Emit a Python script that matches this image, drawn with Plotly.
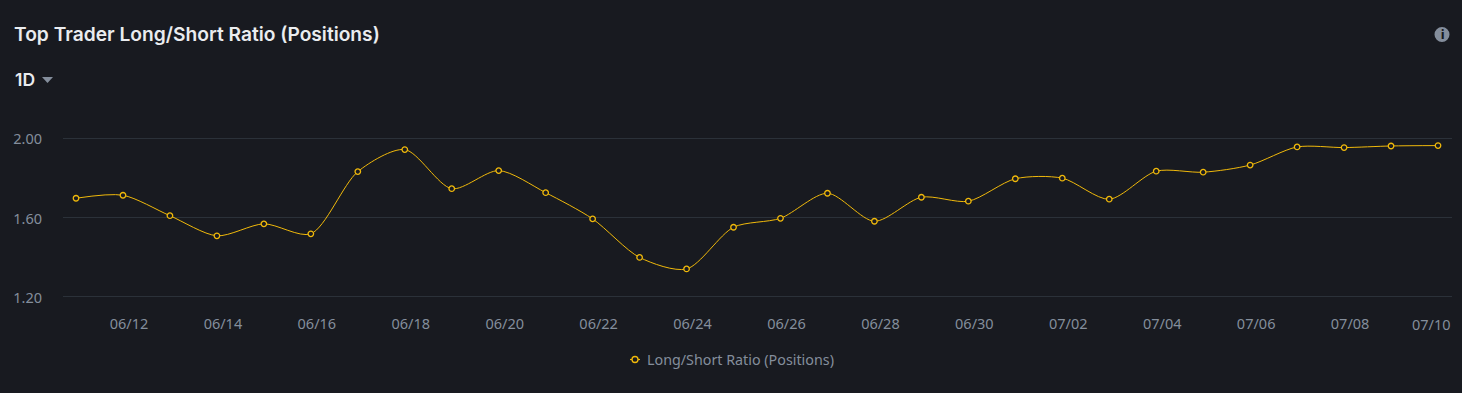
import plotly.graph_objects as go

W, H = 1462, 393
L, R, T, B = 63, 1452, 128, 307

dates = ["2023-06-11","2023-06-12","2023-06-13","2023-06-14","2023-06-15","2023-06-16","2023-06-17","2023-06-18","2023-06-19","2023-06-20",
         "2023-06-21","2023-06-22","2023-06-23","2023-06-24","2023-06-25","2023-06-26","2023-06-27","2023-06-28","2023-06-29","2023-06-30",
         "2023-07-01","2023-07-02","2023-07-03","2023-07-04","2023-07-05","2023-07-06","2023-07-07","2023-07-08","2023-07-09","2023-07-10"]
ratio = [1.697,1.712,1.609,1.508,1.568,1.518,1.831,1.942,1.745,1.836,
         1.725,1.593,1.399,1.341,1.551,1.596,1.722,1.581,1.702,1.682,
         1.795,1.798,1.692,1.833,1.828,1.864,1.955,1.952,1.960,1.962]
tick_dates = dates[1:29:2]
tick_labels = [d[5:7] + "/" + d[8:] for d in tick_dates]
last_date = dates[-1]
last_label = last_date[5:7] + "/" + last_date[8:]
y_ticks = [1.2, 1.6, 2.0]
y_labels = ["1.20", "1.60", "2.00"]
series_name = "Long/Short Ratio (Positions)"
title = "Top Trader Long/Short Ratio (Positions)"
interval = "1D"

BG = "#181A20"; GRID = "#2B3139"; MUTED = "#848E9C"; WHITE = "#EAECEF"; YEL = "#F0B90B"
FONT = "Noto Sans"; HEAD = "Inter"

def px(x): return (x - L) / (R - L)
def py(y): return (B - y) / (B - T)

fig = go.Figure()
fig.add_trace(go.Scatter(
    x=dates, y=ratio, mode="lines+markers", showlegend=False, cliponaxis=False,
    line=dict(color=YEL, width=1, shape="spline", smoothing=0.8),
    marker=dict(symbol="circle", size=5.5, color=BG, line=dict(color=YEL, width=1.3)),
))
fig.add_trace(go.Scatter(
    x=[None], y=[None], name=series_name, mode="markers",
    marker=dict(symbol="circle", size=6, color="rgba(0,0,0,0)", line=dict(color="rgba(0,0,0,0)", width=0)),
))

fig.update_layout(
    width=W, height=H, autosize=False,
    margin=dict(l=L, r=W - R, t=T, b=H - B, pad=0),
    paper_bgcolor=BG, plot_bgcolor=BG,
    font=dict(family=FONT, size=14.5, color=MUTED),
    hovermode=False,
    xaxis=dict(
        type="date", range=["2023-06-10 17:21", "2023-07-10 07:09"],
        tickmode="array", tickvals=tick_dates, ticktext=tick_labels,
        ticks="", showgrid=False, zeroline=False, showline=False,
        ticklabelstandoff=6, ticklabelshift=6,
    ),
    yaxis=dict(
        range=[1.1495, 2.0505], tickmode="array", tickvals=y_ticks, ticktext=y_labels,
        showgrid=True, gridcolor=GRID, gridwidth=1, zeroline=False, showline=False,
        ticks="", ticklabelstandoff=20, ticklabelshift=1,
    ),
    legend=dict(orientation="h", x=px(637 - 30), xref="paper", y=py(360), yanchor="middle", xanchor="left",
                font=dict(size=14.3, color=MUTED), bgcolor="rgba(0,0,0,0)"),
    annotations=[
        dict(text=title, xref="paper", yref="paper", x=px(12), y=py(34), xanchor="left", yanchor="middle",
             showarrow=False, font=dict(size=19.2, color=WHITE, weight=600, family=HEAD)),
        dict(text=interval, xref="paper", yref="paper", x=px(13), y=py(79), xanchor="left", yanchor="middle",
             showarrow=False, font=dict(size=17.5, color=WHITE, weight=600, family=HEAD)),
        dict(text=last_label, xref="x", yref="paper", x=last_date, y=py(324), xshift=-7, xanchor="center",
             yanchor="middle", showarrow=False, font=dict(size=14.5, color=MUTED, family=FONT)),
        dict(text="i", xref="paper", yref="paper", x=px(1442), y=py(34.5), xanchor="center", yanchor="middle",
             showarrow=False, font=dict(size=12, color=BG, weight=800, family=HEAD)),
    ],
    shapes=[
        dict(type="circle", xref="paper", yref="paper", x0=px(1434.5), x1=px(1449.5), y0=py(42), y1=py(27),
             fillcolor=MUTED, line=dict(width=0), layer="below"),
        dict(type="path", xref="paper", yref="paper",
             path=f"M {px(42)} {py(77)} L {px(53)} {py(77)} L {px(47.5)} {py(83)} Z",
             fillcolor=MUTED, line=dict(width=0)),
        dict(type="line", xref="paper", yref="paper", x0=px(630), x1=px(640), y0=py(359.5), y1=py(359.5),
             line=dict(color=YEL, width=1.2)),
        dict(type="circle", xref="paper", yref="paper", x0=px(632), x1=px(638), y0=py(362.5), y1=py(356.5),
             fillcolor=BG, line=dict(color=YEL, width=1.3)),
    ],
)

fig.write_html("out.html", config={"displayModeBar": False},
               post_script="document.body.style.margin='0';document.body.style.background='#181A20';")
